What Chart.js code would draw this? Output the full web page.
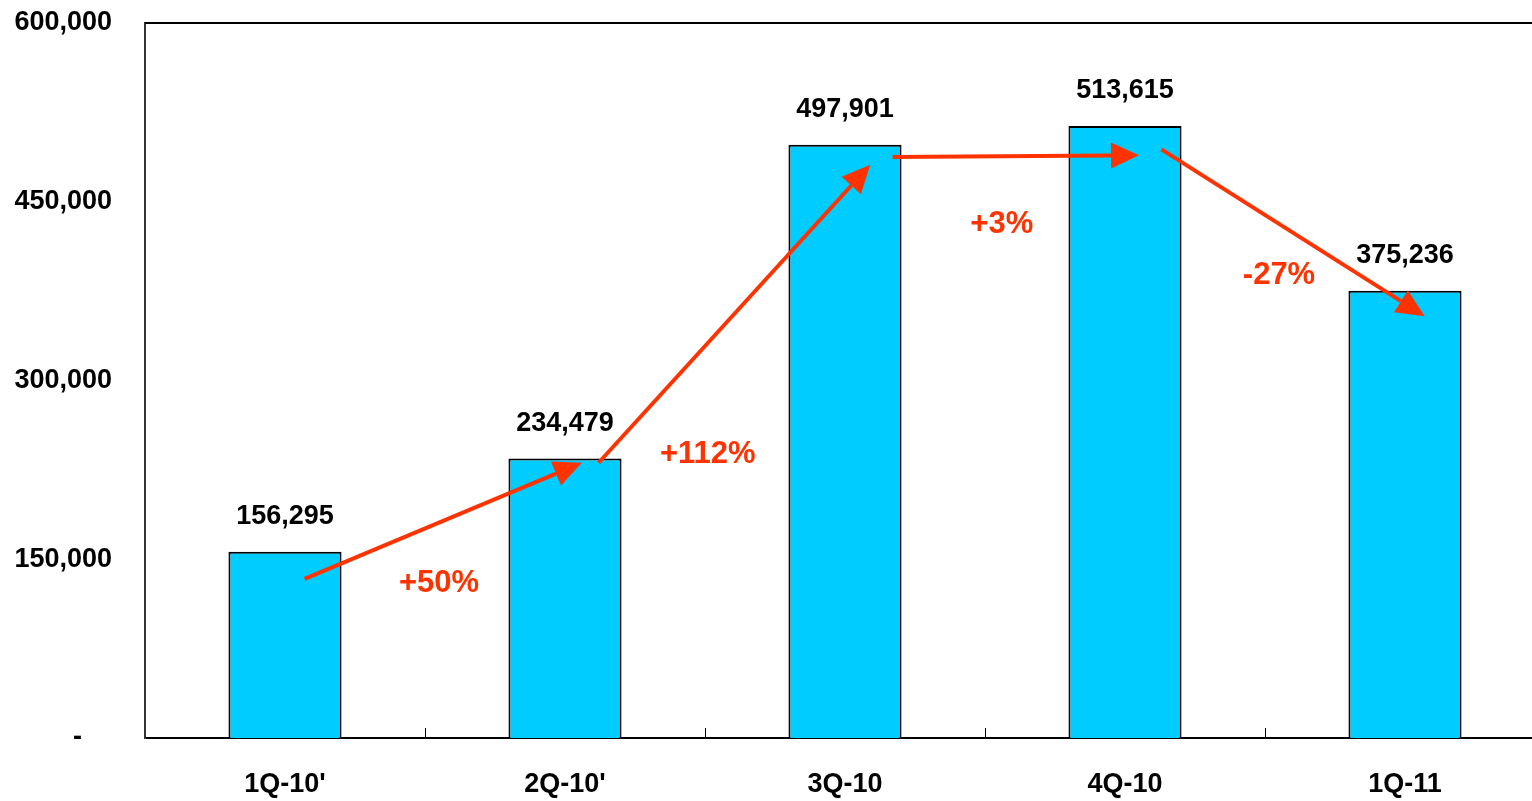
<!DOCTYPE html>
<html>
<head>
<meta charset="utf-8">
<script src="https://cdn.jsdelivr.net/npm/chart.js@4.4.0/dist/chart.umd.min.js"></script>
<style>
  html, body { margin: 0; padding: 0; background: #fff; overflow: hidden; }
  #wrap { width: 1546px; height: 801px; }
</style>
</head>
<body>
<div id="wrap"><canvas id="myBarChart"></canvas></div>
<script>
// data
const categories = ["1Q-10'", "2Q-10'", "3Q-10", "4Q-10", "1Q-11"];
const values = [156295, 234479, 497901, 513615, 375236];
const yTicks = [0, 150000, 300000, 450000, 600000];

// growth annotations between quarters
const changeLabels = ['+50%', '+112%', '+3%', '-27%'];
const labelPos = [[0.55, 130000], [1.51, 238000], [2.56, 431000], [3.55, 388000]];
const arrowFrom = [[0.07, 133500], [1.12, 231000], [2.17, 487500], [3.13, 494000]];
const arrowTo = [[1.06, 231000], [2.09, 481000], [3.05, 489000], [4.07, 354000]];

const RED = '#FF3300';
const FONT = '"Liberation Sans", Arial, sans-serif';

const extras = {
    id: 'extras',
    afterDatasetsDraw(chart) {
        const ctx = chart.ctx;
        const x = chart.scales.x, y = chart.scales.y;
        const area = chart.chartArea;
        ctx.save();

        // top border
        ctx.strokeStyle = '#000';
        ctx.lineWidth = 2;
        ctx.beginPath();
        ctx.moveTo(area.left, area.top);
        ctx.lineTo(area.right, area.top);
        ctx.stroke();

        // small inward ticks between categories
        ctx.lineWidth = 1;
        for (let i = 0; i < categories.length - 1; i++) {
            const px = Math.round(x.getPixelForValue(i + 0.5)) + 0.5;
            ctx.beginPath();
            ctx.moveTo(px, area.bottom);
            ctx.lineTo(px, area.bottom - 10);
            ctx.stroke();
        }

        // value labels above bars
        ctx.fillStyle = '#000';
        ctx.font = 'bold 27px ' + FONT;
        ctx.textAlign = 'center';
        ctx.textBaseline = 'middle';
        chart.getDatasetMeta(0).data.forEach((bar, i) => {
            ctx.fillText(values[i].toLocaleString('en-US'), bar.x, bar.y - 35);
        });

        // arrows
        ctx.strokeStyle = RED;
        ctx.fillStyle = RED;
        ctx.lineWidth = 4;
        for (let i = 0; i < arrowFrom.length; i++) {
            const x1 = x.getPixelForValue(arrowFrom[i][0]);
            const y1 = y.getPixelForValue(arrowFrom[i][1]);
            const x2 = x.getPixelForValue(arrowTo[i][0]);
            const y2 = y.getPixelForValue(arrowTo[i][1]);
            const ang = Math.atan2(y2 - y1, x2 - x1);
            const headLen = 28, headW = 13;
            const bx = x2 - headLen * Math.cos(ang), by = y2 - headLen * Math.sin(ang);
            ctx.beginPath();
            ctx.moveTo(x1, y1);
            ctx.lineTo(bx, by);
            ctx.stroke();
            ctx.beginPath();
            ctx.moveTo(x2, y2);
            ctx.lineTo(bx + headW * Math.sin(ang), by - headW * Math.cos(ang));
            ctx.lineTo(bx - headW * Math.sin(ang), by + headW * Math.cos(ang));
            ctx.closePath();
            ctx.fill();
        }

        // percentage labels
        ctx.font = 'bold 31px ' + FONT;
        changeLabels.forEach((t, i) => {
            ctx.fillText(t, x.getPixelForValue(labelPos[i][0]), y.getPixelForValue(labelPos[i][1]));
        });
        ctx.restore();
    }
};

const ctx = document.getElementById('myBarChart').getContext('2d');
const myBarChart = new Chart(ctx, {
    type: 'bar',
    data: {
        labels: categories,
        datasets: [{
            data: values,
            backgroundColor: '#00CCFF',
            borderColor: '#000',
            borderWidth: 2,
            barPercentage: 0.404,
            categoryPercentage: 1
        }]
    },
    options: {
        responsive: true,
        maintainAspectRatio: false,
        animation: false,
        layout: { padding: { top: 23, right: 1, left: 0, bottom: 0 } },
        plugins: { legend: { display: false }, tooltip: { enabled: false } },
        scales: {
            x: {
                grid: { display: false, drawTicks: false },
                border: { display: true, color: '#000', width: 2 },
                ticks: { color: '#000', padding: 30, font: { family: FONT, size: 27, weight: 'bold' } },
                afterFit(scale) { scale.height = 63; }
            },
            y: {
                min: 0,
                max: 600000,
                afterBuildTicks(scale) { scale.ticks = yTicks.map(v => ({ value: v })); },
                grid: { display: false, drawTicks: false },
                border: { display: true, color: '#333', width: 2 },
                ticks: {
                    color: '#000',
                    padding: 33,
                    font: { family: FONT, size: 27, weight: 'bold' },
                    callback: v => v === 0 ? '-    ' : v.toLocaleString('en-US')
                },
                afterFit(scale) {
                    scale.width = 145;
                    scale.paddingTop = 0;
                    scale.paddingBottom = 0;
                }
            }
        }
    },
    plugins: [extras]
});
</script>
</body>
</html>
